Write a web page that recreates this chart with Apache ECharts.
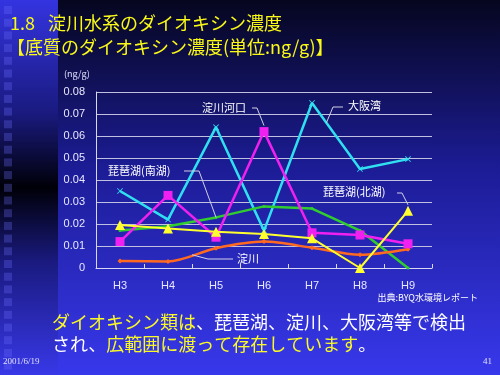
<!DOCTYPE html>
<html><head><meta charset="utf-8">
<script src="https://cdn.jsdelivr.net/npm/echarts@6/dist/echarts.min.js"></script>
<style>html,body{margin:0;padding:0;background:#000}#c{width:500px;height:375px}</style>
</head><body><div id="c"></div>
<script>
const categories = ['H3','H4','H5','H6','H7','H8','H9'];
const osakaBay    = [0.035, 0.022, 0.064, 0.017, 0.075, 0.045, 0.0495];
const yodoEstuary = [0.012, 0.033, 0.014, 0.062, 0.016, 0.015, 0.011];
const biwaSouth   = [0.017, 0.019, 0.023, 0.028, 0.027, 0.017, 0];
const biwaNorth   = [0.0195, 0.018, 0.0165, 0.0155, 0.0135, 0, 0.026];
const yodoRiver   = [0.0032, 0.003, 0.009, 0.012, 0.0092, 0.006, 0.0085];
const seriesNames = ['大阪湾','淀川河口','琵琶湖(南湖)','琵琶湖(北湖)','淀川'];
const yMin = 0, yMax = 0.08, yStep = 0.01;

const JP = '"Noto Sans CJK JP", sans-serif';
const chart = echarts.init(document.getElementById('c'), null, {renderer:'canvas'});

const squares = [];
for (let i = 0; i < 29; i++) {
  squares.push({type:'rect', id:'sq'+i, silent:true, z:-1,
    shape:{x:4, y:6 + i*12.7, width:8, height:8},
    style:{fill:'rgba(110,110,255,0.3)'}});
}

const crossPath = 'path://M0,1L1,0L5,4L9,0L10,1L6,5L10,9L9,10L5,6L1,10L0,9L4,5Z';

const baseGraphic = [
  {type:'rect', id:'strip', silent:true, z:-2, shape:{x:0, y:0, width:58, height:375},
    style:{fill:{type:'linear', x:0, y:0, x2:0, y2:1, colorStops:[
      {offset:0, color:'#3434e0'},{offset:0.3, color:'#1a1a80'},{offset:0.5, color:'#000008'},
      {offset:0.7, color:'#1a1a80'},{offset:1, color:'#3838e8'}]}}},
  ...squares,
  {type:'text', id:'t1a', x:10, y:23, style:{text:'1.8', fill:'#fafa18', font:'18px '+JP, textVerticalAlign:'middle'}},
  {type:'text', id:'t1b', x:48, y:23, style:{text:'淀川水系のダイオキシン濃度', fill:'#fafa18', font:'18px '+JP, textVerticalAlign:'middle'}},
  {type:'text', id:'t2', x:7, y:47, style:{text:'【底質のダイオキシン濃度(単位:ng/g)】', fill:'#fafa18', font:'18px '+JP, textVerticalAlign:'middle'}},
  {type:'text', id:'unit', x:64, y:74, style:{text:'(ng/g)', fill:'#e0e0ff', font:'9px '+JP, textVerticalAlign:'middle'}},
  {type:'text', id:'src', x:478, y:298, style:{text:'出典:BYQ水環境レポート', fill:'#ffffff', font:'9px '+JP, textAlign:'right', textVerticalAlign:'middle'}},
  {type:'text', id:'b1', x:52, y:322, style:{
    text:'{y|ダイオキシン類は}{w|、琵琶湖、淀川、大阪湾等で検出}', font:'18px '+JP, textVerticalAlign:'middle',
    rich:{y:{fill:'#fafa28', font:'18px '+JP}, w:{fill:'#ffffff', font:'18px '+JP}}}},
  {type:'text', id:'b2', x:52, y:344, style:{
    text:'{w|され、}{y|広範囲に渡って存在しています}{w|。}', font:'18px '+JP, textVerticalAlign:'middle',
    rich:{y:{fill:'#fafa28', font:'18px '+JP}, w:{fill:'#ffffff', font:'18px '+JP}}}},
  {type:'text', id:'date', x:3, y:362, style:{text:'2001/6/19', fill:'#e0e0ff', font:'9px "Liberation Serif", serif', textVerticalAlign:'middle'}},
  {type:'text', id:'page', x:492, y:362, style:{text:'41', fill:'#e0e0ff', font:'9px "Liberation Serif", serif', textAlign:'right', textVerticalAlign:'middle'}}
];

const option = {
  animation:false,
  backgroundColor:{type:'linear', x:0, y:0, x2:0, y2:1, colorStops:[
    {offset:0, color:'#06061f'},{offset:0.45, color:'#1c1c96'},{offset:1, color:'#3838ec'}]},
  grid:{left:96, right:68, top:92, bottom:107},
  xAxis:{type:'category', data:categories, boundaryGap:true,
    axisLine:{lineStyle:{color:'#d8d8f0', width:1}},
    axisTick:{show:true, inside:true, length:4, lineStyle:{color:'#d8d8f0'}},
    axisLabel:{color:'#e8e8ff', fontSize:11, fontFamily:'"Liberation Sans", Arial', margin:12}},
  yAxis:{type:'value', min:yMin, max:yMax, interval:yStep,
    axisLine:{show:true, lineStyle:{color:'#d8d8f0'}},
    axisTick:{show:false},
    splitLine:{lineStyle:{color:'#c0c0e0', width:1}},
    axisLabel:{color:'#e8e8ff', fontSize:11, fontFamily:'"Liberation Sans", Arial', margin:11,
      formatter:v => v === 0 ? '0' : v.toFixed(2)}},
  series:[
    {name:seriesNames[0], type:'line', data:osakaBay, symbol:crossPath, symbolSize:6,
      lineStyle:{color:'#30e0f0', width:2.5}, itemStyle:{color:'#30e0f0'}, z:2},
    {name:seriesNames[2], type:'line', data:biwaSouth, symbol:'circle', symbolSize:3,
      lineStyle:{color:'#30cc30', width:2.5}, itemStyle:{color:'#30cc30'}, z:3},
    {name:seriesNames[4], type:'line', data:yodoRiver, symbol:'diamond', symbolSize:5, smooth:0.3,
      lineStyle:{color:'#ff6a20', width:2.5}, itemStyle:{color:'#ff6a20'}, z:4},
    {name:seriesNames[1], type:'line', data:yodoEstuary, symbol:'rect', symbolSize:9,
      lineStyle:{color:'#f020f0', width:2.5}, itemStyle:{color:'#f020f0'}, z:5},
    {name:seriesNames[3], type:'line', data:biwaNorth, symbol:'triangle', symbolSize:10,
      lineStyle:{color:'#ffff30', width:2}, itemStyle:{color:'#ffff30'}, z:6}
  ],
  graphic:baseGraphic
};
chart.setOption(option);

// Series annotations with leader lines ending on the drawn data
const px = (i, v) => chart.convertToPixel({gridIndex:0}, [i, v]);
const lerp = (a, b, t) => [a[0] + (b[0]-a[0])*t, a[1] + (b[1]-a[1])*t];
const labelFont = '11px ' + JP;
const estTop = px(3, yodoEstuary[3]);
const bayPt = lerp(px(4, osakaBay[4]), px(5, osakaBay[5]), 0.3);
const southPt = px(2, biwaSouth[2]);
const northPt = px(6, biwaNorth[6]);
const riverPt = lerp(px(1, yodoRiver[1]), px(2, yodoRiver[2]), 0.5);
const lead = (id, pts) => ({type:'polyline', id:id, silent:true, z:10, shape:{points:pts},
  style:{stroke:'#d0d0e8', lineWidth:1, fill:null}});
const lbl = (id, x, y, t) => ({type:'text', id:id, x:x, y:y, z:10, style:{text:t, fill:'#ffffff', font:labelFont, textVerticalAlign:'middle'}});
chart.setOption({graphic: baseGraphic.concat([
  lbl('l1', 202, 108, seriesNames[1]), lead('k1', [[252,108],[257,108],[estTop[0], estTop[1]-6]]),
  lbl('l2', 348, 106, seriesNames[0]), lead('k2', [[343,107],[333,107],bayPt]),
  lbl('l3', 108, 171, seriesNames[2]), lead('k3', [[184,171],[199,171],southPt]),
  lbl('l4', 323, 192, seriesNames[3]), lead('k4', [[397,193],[402,193],[northPt[0], northPt[1]-6]]),
  lbl('l5', 237, 259, seriesNames[4]), lead('k5', [[233,259],[208,259],riverPt])
])}, {replaceMerge:['graphic']});
</script>
</body></html>
